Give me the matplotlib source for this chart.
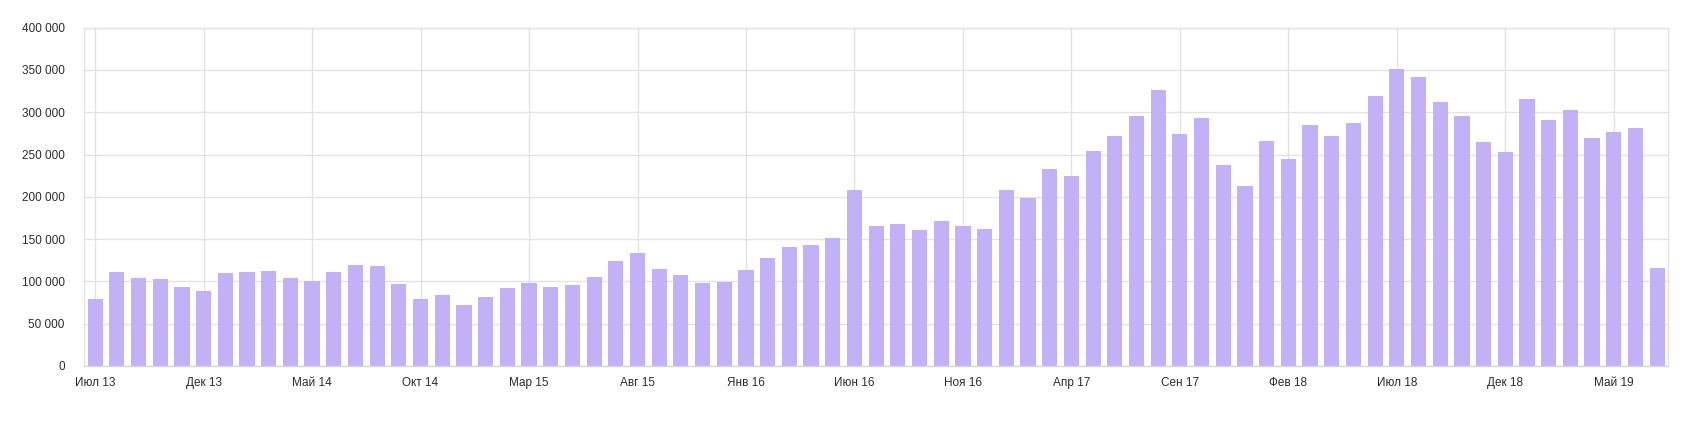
import matplotlib
matplotlib.use("Agg")
import matplotlib.pyplot as plt
from matplotlib.ticker import FuncFormatter, MultipleLocator

plt.rcParams['font.family'] = ['Liberation Sans', 'DejaVu Sans']

# months Jul 2013 .. Jul 2019
month_names = ['Янв', 'Фев', 'Мар', 'Апр', 'Май', 'Июн',
               'Июл', 'Авг', 'Сен', 'Окт', 'Ноя', 'Дек']
months = ['%s %02d' % (month_names[(6 + i) % 12], (13 + (6 + i) // 12)) for i in range(73)]

values = [
    79200, 111100, 104000, 102900, 93400, 88700,
    109900, 111100, 112300, 104000, 100500, 111100, 119400, 118200, 96900, 79200, 83900, 72100,
    81600, 92200, 98100, 93400, 95800, 105200, 124100, 133600, 114700, 107600, 98100, 99300,
    113500, 127700, 140700, 143100, 151300, 208100, 165500, 167900, 160800, 171400, 165500, 162000,
    208100, 198600, 232900, 224600, 254200, 271900, 295600, 326300, 274300, 293200, 237600, 212800,
    266000, 244700, 284900, 271900, 287300, 319200, 351100, 341700, 312100, 295600, 264800, 253000,
    315700, 290800, 302700, 269600, 276700, 281400, 115900,
]

label_step = 5
bar_color = '#c2b1f7'
grid_color = '#e3e3e3'
text_color = '#2b2b2b'

fig = plt.figure(figsize=(16.96, 4.32), dpi=100)
ax = fig.add_axes([0.0497, 0.1528, 0.9338, 0.7831])

x = list(range(len(values)))
ax.bar(x, values, width=0.7, color=bar_color, linewidth=0, zorder=2)

ax.set_xlim(-0.5, len(values) - 0.5)
ax.set_ylim(0, 400000)

ax.set_xticks(x[::label_step])
ax.set_xticklabels(months[::label_step])
ax.yaxis.set_major_locator(MultipleLocator(50000))
ax.yaxis.set_major_formatter(FuncFormatter(lambda v, p: '{:,}'.format(int(v)).replace(',', ' ')))

ax.grid(True, color=grid_color, linewidth=1.0, zorder=0)
ax.set_axisbelow(True)
ax.tick_params(axis='both', length=0, labelsize=8.5, colors=text_color)
ax.tick_params(axis='y', pad=14)
ax.tick_params(axis='x', pad=8)

for s in ax.spines.values():
    s.set_color(grid_color)
    s.set_linewidth(1.0)
ax.spines['bottom'].set_color('#d8d8d8')

fig.savefig('out.png', dpi=100, facecolor='white')
